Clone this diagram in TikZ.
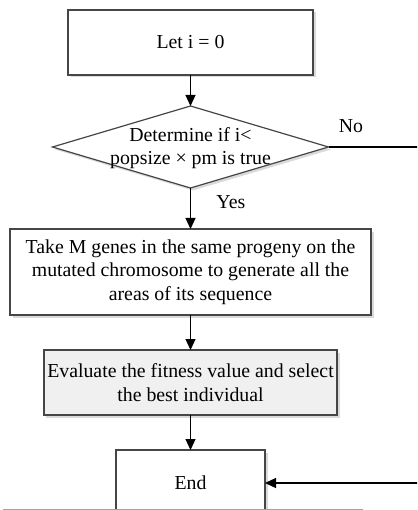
\documentclass[tikz,border=0pt]{standalone}
\usepackage{fontspec}
\setmainfont{Liberation Serif}
\usetikzlibrary{shapes.geometric, arrows.meta, positioning, shadows}
\definecolor{edgegray}{RGB}{70,70,70}
\definecolor{shadegray}{RGB}{218,218,218}
\definecolor{boxgray}{RGB}{240,240,240}
\definecolor{rulerblue}{RGB}{112,178,214}
\tikzstyle{block} = [draw=edgegray, fill=white, rectangle, line width=1.2pt, align=center, outer sep=0pt,
  drop shadow={shadow xshift=2.5pt, shadow yshift=-2.5pt, fill=shadegray, opacity=1}]
\tikzstyle{decision} = [block, diamond, inner sep=0pt]

\begin{document}
\begin{tikzpicture}[x=1pt, y=1pt, node distance=35pt, >={Triangle[width=10pt,length=11pt]},
  font=\fontsize{19.8}{23.3}\selectfont, line width=1.2pt]
    \useasboundingbox (0,0) rectangle (417,-510);
    \clip (0,0) rectangle (417,-510);
    \node [block, minimum width=245pt, minimum height=65pt] (init) at (190.5,-42.5) {Let i = 0};
    \node [decision, minimum width=276pt, minimum height=82pt, below=31pt of init,
      label={[align=center, yshift=-1pt]center:Determine if i<\\popsize × pm is true}] (check) {};
    \node [block, minimum width=361pt, minimum height=86pt, below=41pt of check]
      (mutate) {Take M genes in the same progeny on the\\mutated chromosome to generate all the\\areas of its sequence};
    \node [block, fill=boxgray, minimum width=292pt, minimum height=65pt, below=35pt of mutate]
      (select) {Evaluate the fitness value and select\\the best individual};
    \node [block, minimum width=149pt, minimum height=66pt, below=35pt of select] (finish) {End};
    \draw [->] (init) -- (check);
    \draw [->] (check) -- node [pos=0.34, right=22pt] {Yes} (mutate);
    \draw [->] (mutate) -- (select);
    \draw [->] (select) -- (finish);
    \draw [->] (check.east) -- node [above=10pt, pos=0.22] {No} ++(102,0) |- (finish.east);
    \draw [rulerblue, line width=1.3pt] (3,-509.3) -- (362.7,-509.3);
\end{tikzpicture}
\end{document}
